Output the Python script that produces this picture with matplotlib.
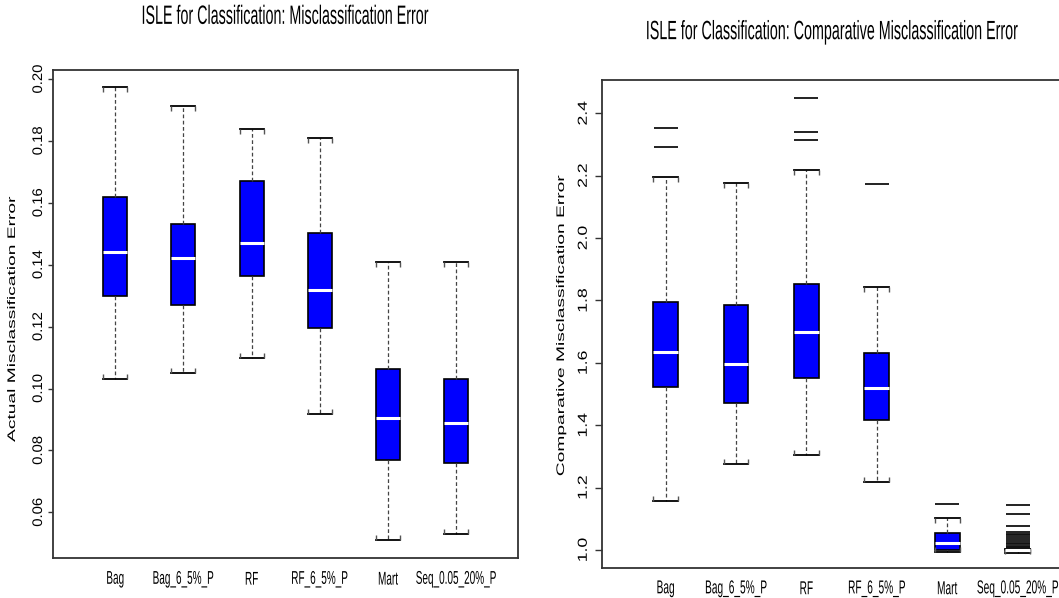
import matplotlib
matplotlib.use("Agg")
import matplotlib.pyplot as plt
from matplotlib.patheffects import AbstractPathEffect
from matplotlib.transforms import Affine2D
from matplotlib.path import Path

# ---------------- data ----------------
methods = ["Bag", "Bag_6_5%_P", "RF", "RF_6_5%_P", "Mart", "Seq_0.05_20%_P"]

# left panel: actual misclassification error
act_whislo = [0.1031, 0.1050, 0.1100, 0.0919, 0.0510, 0.0530]
act_q1 = [0.1300, 0.1270, 0.1364, 0.1194, 0.0770, 0.0759]
act_med = [0.1441, 0.1421, 0.1470, 0.1319, 0.0905, 0.0888]
act_q3 = [0.1620, 0.1530, 0.1670, 0.1501, 0.1064, 0.1030]
act_whishi = [0.1975, 0.1912, 0.1840, 0.1810, 0.1410, 0.1410]
act_yticks = [0.06, 0.08, 0.10, 0.12, 0.14, 0.16, 0.18, 0.20]
act_ylabels = ["0.06", "0.08", "0.10", "0.12", "0.14", "0.16", "0.18", "0.20"]

# right panel: comparative misclassification error
cmp_whislo = [1.157, 1.277, 1.305, 1.217, 0.995, 0.990]
cmp_q1 = [1.523, 1.471, 1.5525, 1.418, 1.000, 0.996]
cmp_med = [1.635, 1.596, 1.700, 1.519, 1.021, 1.000]
cmp_q3 = [1.7935, 1.786, 1.852, 1.632, 1.056, 1.001]
cmp_whishi = [2.195, 2.177, 2.217, 1.843, 1.103, 1.002]
cmp_fliers = [
    [2.354, 2.2935],
    [],
    [2.449, 2.339, 2.315],
    [2.174],
    [1.146],
    [1.145, 1.116, 1.077, 1.057, 1.052, 1.047, 1.041, 1.035, 1.029,
     1.024, 1.019, 1.014, 1.009, 1.005],
]
cmp_yticks = [1.0, 1.2, 1.4, 1.6, 1.8, 2.0, 2.2, 2.4]
cmp_ylabels = ["1.0", "1.2", "1.4", "1.6", "1.8", "2.0", "2.2", "2.4"]

title_left = "ISLE for Classification: Misclassification Error"
title_right = "ISLE for Classification: Comparative Misclassification Error"
ylabel_left = "Actual Misclassification Error"
ylabel_right = "Comparative Misclassification Error"


# ---------------- helpers ----------------
class Stretch(AbstractPathEffect):
    """Scale rendered glyphs in display space about their ink centre."""

    def __init__(self, kx=1.0, ky=1.0):
        super().__init__()
        self.kx, self.ky = kx, ky

    def draw_path(self, renderer, gc, tpath, affine, rgbFace=None):
        ext = tpath.get_extents(affine)
        cx = 0.5 * (ext.x0 + ext.x1)
        cy = 0.5 * (ext.y0 + ext.y1)
        t = affine + Affine2D().translate(-cx, -cy).scale(self.kx, self.ky).translate(cx, cy)
        renderer.draw_path(gc, tpath, t, rgbFace)


plt.rcParams["font.family"] = ["Liberation Sans", "DejaVu Sans"]

W, H = 1059, 598
fig = plt.figure(figsize=(W / 100, H / 100), dpi=100)
fig.patch.set_facecolor("white")

SPINE = "#333333"
TICK_UP = Path([(0, 0), (0, 1)])
TICK_DOWN = Path([(0, 0), (0, -1)])


def make_stats(lo, q1, med, q3, hi, fliers):
    out = []
    for i in range(len(med)):
        out.append(dict(whislo=lo[i], q1=q1[i], med=med[i], q3=q3[i],
                        whishi=hi[i], fliers=fliers[i], label=methods[i]))
    return out


def draw_panel(ax, stats, flier_ms):
    pos = list(range(1, len(stats) + 1))
    res = ax.bxp(stats, positions=pos, widths=0.35, capwidths=0.35,
                 patch_artist=True, manage_ticks=False,
                 boxprops=dict(facecolor="#0000ff", edgecolor="black", linewidth=1.2),
                 medianprops=dict(color="white", linewidth=2.2, solid_capstyle="butt"),
                 whiskerprops=dict(color="#444444", linewidth=0.9, linestyle=(0, (3, 2))),
                 capprops=dict(color="black", linewidth=1.3),
                 flierprops=dict(marker="_", markersize=flier_ms, markeredgewidth=1.3,
                                 markeredgecolor="#111111", linestyle="none"))
    for k, cap in enumerate(res["caps"]):
        cap.set_marker(TICK_UP if k % 2 == 0 else TICK_DOWN)
        cap.set_markersize(7)
        cap.set_markeredgewidth(1.0)
        cap.set_markeredgecolor("#555555")
    return pos


# ---------------- left panel ----------------
axL = fig.add_axes([53.3 / W, 1 - 557.9 / H, 464.4 / W, 487.9 / H])
posL = draw_panel(axL, make_stats(act_whislo, act_q1, act_med, act_q3, act_whishi,
                                  [[] for _ in methods]), 17.7)
axL.set_xlim(0.0924, 6.90)
axL.set_ylim(0.04527, 0.20291)
axL.set_xticks(posL, methods, fontsize=7.2, path_effects=[Stretch(1.0, 1.85)])
axL.set_yticks(act_yticks, act_ylabels, rotation=90, va="center", fontsize=10,
               path_effects=[Stretch(1.0, 1.07)])
axL.tick_params(axis="x", length=0, pad=11.4)
axL.tick_params(axis="y", length=3.6, width=1.0, color=SPINE, pad=2.4)
for sp in axL.spines.values():
    sp.set_color(SPINE)
    sp.set_linewidth(1.3)
axL.set_ylabel(ylabel_left, fontsize=7.9, path_effects=[Stretch(1.0, 1.75)])
axL.yaxis.set_label_coords((12 - 53.3) / 464.4, 0.49)
axL.yaxis.label.set_va("center")
axL.yaxis.label.set_ha("center")

# ---------------- right panel ----------------
axR = fig.add_axes([601.7 / W, 1 - 567.7 / H, 479.3 / W, 487.3 / H])
posR = draw_panel(axR, make_stats(cmp_whislo, cmp_q1, cmp_med, cmp_q3, cmp_whishi,
                                  cmp_fliers), 17.7)
axR.set_xlim(0.0924, 6.90)
axR.set_ylim(0.9433, 2.5055)
axR.set_xticks(posR, methods, fontsize=7.3, path_effects=[Stretch(1.0, 1.85)])
axR.set_yticks(cmp_yticks, cmp_ylabels, rotation=90, va="center", fontsize=9.4,
               path_effects=[Stretch(1.0, 1.35)])
axR.tick_params(axis="x", length=0, pad=11.2)
axR.tick_params(axis="y", length=4.8, width=1.0, color=SPINE, pad=3.8)
for sp in axR.spines.values():
    sp.set_color(SPINE)
    sp.set_linewidth(1.3)
axR.set_ylabel(ylabel_right, fontsize=7.9, path_effects=[Stretch(1.0, 1.75)])
axR.yaxis.set_label_coords((561 - 601.7) / 479.3, 0.498)
axR.yaxis.label.set_va("center")
axR.yaxis.label.set_ha("center")

# ---------------- titles ----------------
fig.text(285.5 / W, 1 - 15.5 / H, title_left, ha="center", va="center",
         fontsize=10.3, path_effects=[Stretch(1.0, 1.85)])
fig.text(832.5 / W, 1 - 32 / H, title_right, ha="center", va="center",
         fontsize=10.3, path_effects=[Stretch(1.0, 1.85)])

fig.savefig("out.png", dpi=100, facecolor="white")
